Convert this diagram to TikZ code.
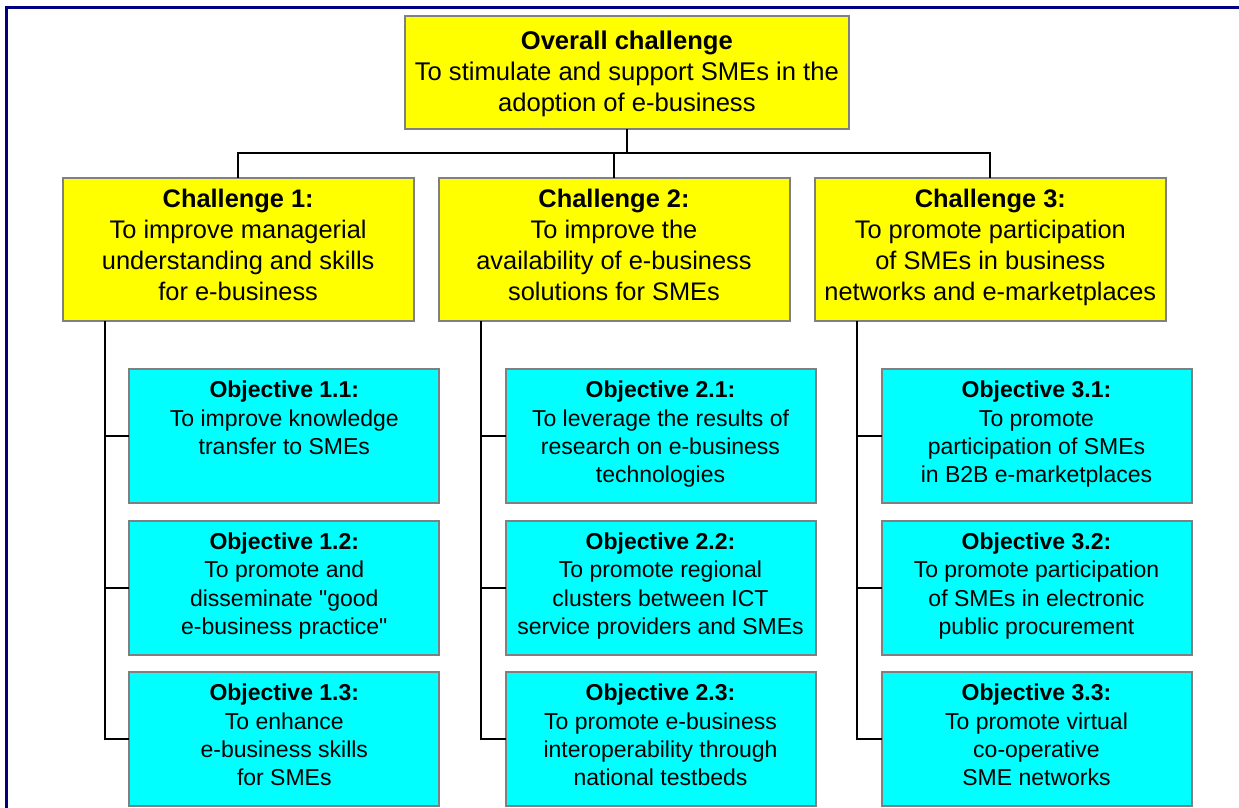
\documentclass[tikz,border=0pt]{standalone}
\usepackage{fontspec}
\setmainfont{Liberation Sans}
\font\qtfont="Liberation Sans" at 23pt
\definecolor{boxgray}{HTML}{808080}
\definecolor{chyellow}{HTML}{FFFF00}
\definecolor{objcyan}{HTML}{00FFFF}
\definecolor{framenavy}{HTML}{000080}
\newcommand{\dq}{{\qtfont\char34}}
\newcommand{\topstrut}{\rule{0pt}{\dimexpr0.7\baselineskip+6.5pt\relax}}
\tikzset{
  basebox/.style={draw=boxgray, line width=2pt, inner sep=0pt, outer sep=0pt, align=center,
    execute at begin node=\topstrut, execute at end node=\strut},
  topbox/.style={basebox, fill=chyellow, minimum width=444.3pt, minimum height=113pt,
    font=\fontsize{25.6}{31}\selectfont},
  chbox/.style={basebox, fill=chyellow, minimum width=351pt, minimum height=143.3pt,
    font=\fontsize{25.4}{31}\selectfont},
  objbox/.style={basebox, fill=objcyan, minimum width=310pt, minimum height=134pt,
    font=\fontsize{23}{28.3}\selectfont},
  conn/.style={draw=black, line width=1.8pt},
  frameline/.style={draw=framenavy, line width=3pt}
}
\begin{document}
\begin{tikzpicture}[x=1pt, y=-1pt]
\useasboundingbox (0,0) rectangle (1239,807);
\clip (0,0) rectangle (1239,807);
\fill[white] (0,0) rectangle (1239,807);
\draw[frameline] (6.5,840) -- (6.5,7.5) -- (1260,7.5);

% top
\node[topbox] (ov) at (626.85,72.5) {};
\node[align=center, inner sep=0pt, font=\fontsize{25.6}{31}\selectfont,
  execute at begin node=\strut, execute at end node=\strut] (ovt) at (626.85,75.5)
  {\textbf{Overall challenge}\\To stimulate and support SMEs in the\\adoption of e-business};

% challenges
\node[chbox] (c1) at (238.2,249.35) {\textbf{Challenge 1:}\\To improve managerial\\understanding and skills\\for e-business};
\node[chbox] (c2) at (614,249.35) {\textbf{Challenge 2:}\\To improve the\\availability of e-business\\solutions for SMEs};
\node[chbox] (c3) at (990.35,249.35) {\textbf{Challenge 3:}\\To promote participation\\of SMEs in business\\networks and e-marketplaces};

% objectives column 1
\node[objbox] (o11) at (284.3,436.3) {\textbf{Objective 1.1:}\\To improve knowledge\\transfer to SMEs\\\mbox{}};
\node[objbox] (o12) at (284.3,587.8) {\textbf{Objective 1.2:}\\To promote and\\disseminate \dq good\\e-business practice\dq};
\node[objbox] (o13) at (284.3,739.2) {\textbf{Objective 1.3:}\\To enhance\\e-business skills\\for SMEs};

% objectives column 2
\node[objbox] (o21) at (660.5,436.3) {\textbf{Objective 2.1:}\\To leverage the results of\\research on e-business\\technologies};
\node[objbox] (o22) at (660.5,587.8) {\textbf{Objective 2.2:}\\To promote regional\\clusters between ICT\\service providers and SMEs};
\node[objbox] (o23) at (660.5,739.2) {\textbf{Objective 2.3:}\\To promote e-business\\interoperability through\\national testbeds};

% objectives column 3
\node[objbox] (o31) at (1036.5,436.3) {\textbf{Objective 3.1:}\\To promote\\participation of SMEs\\in B2B e-marketplaces};
\node[objbox] (o32) at (1036.5,587.8) {\textbf{Objective 3.2:}\\To promote participation\\of SMEs in electronic\\public procurement};
\node[objbox] (o33) at (1036.5,739.2) {\textbf{Objective 3.3:}\\To promote virtual\\co-operative\\SME networks};

% bus between levels
\coordinate (bus) at (238.2,153.3);
\draw[conn] (ov.south) -- (ov.south |- bus);
\draw[conn] (c1.north) -- (c1.north |- bus) -- (c3.north |- bus) -- (c3.north);
\draw[conn] (c2.north) -- (c2.north |- bus);

% spines
\coordinate (s1) at (105,321);
\coordinate (s2) at (481.3,321);
\coordinate (s3) at (857.3,321);
\draw[conn] (s1) |- (o13.west);
\draw[conn] (s1 |- o11.west) -- (o11.west);
\draw[conn] (s1 |- o12.west) -- (o12.west);
\draw[conn] (s2) |- (o23.west);
\draw[conn] (s2 |- o21.west) -- (o21.west);
\draw[conn] (s2 |- o22.west) -- (o22.west);
\draw[conn] (s3) |- (o33.west);
\draw[conn] (s3 |- o31.west) -- (o31.west);
\draw[conn] (s3 |- o32.west) -- (o32.west);
\end{tikzpicture}
\end{document}
